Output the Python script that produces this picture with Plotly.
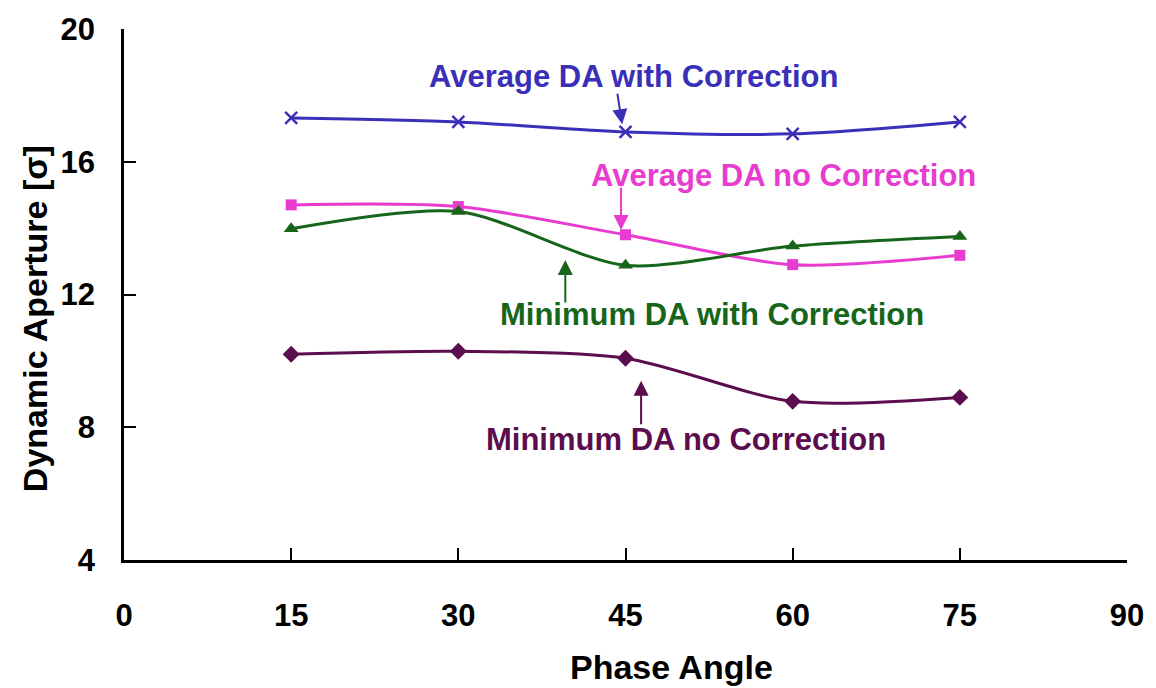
import plotly.graph_objects as go

phase = [15, 30, 45, 60, 75]
avg_with_corr = [17.32, 17.2, 16.9, 16.84, 17.2]
avg_no_corr = [14.7, 14.65, 13.8, 12.9, 13.18]
min_with_corr = [13.98, 14.5, 12.88, 13.46, 13.75]
min_no_corr = [10.2, 10.29, 10.08, 8.78, 8.9]

x_ticks = [0, 15, 30, 45, 60, 75, 90]
y_ticks = [4, 8, 12, 16, 20]

BLUE = "#3A2FB8"
MAGENTA = "#E83CD0"
GREEN = "#17651A"
PURPLE = "#5B0D4E"
FONT = "Liberation Sans, Arial, sans-serif"

fig = go.Figure()

series = [
    (avg_with_corr, BLUE, "x-thin", 12, "Average DA with Correction"),
    (avg_no_corr, MAGENTA, "square", 11, "Average DA no Correction"),
    (min_with_corr, GREEN, "triangle-up", 13, "Minimum DA with Correction"),
    (min_no_corr, PURPLE, "diamond", 13, "Minimum DA no Correction"),
]
for vals, col, sym, size, name in series:
    fig.add_trace(go.Scatter(
        x=phase, y=vals, name=name, mode="lines+markers",
        line=dict(color=col, width=3, shape="spline", smoothing=0.8),
        marker=dict(symbol=sym, size=size, color=col,
                    line=dict(color=col, width=2.5 if sym == "x-thin" else 0)),
    ))

# label texts
labels = [
    ("Average DA with Correction", 45.7, 18.57, BLUE),
    ("Average DA no Correction", 59.2, 15.58, MAGENTA),
    ("Minimum DA with Correction", 52.8, 11.40, GREEN),
    ("Minimum DA no Correction", 50.4, 7.64, PURPLE),
]
for txt, x, y, col in labels:
    fig.add_annotation(x=x, y=y, text="<b>%s</b>" % txt, showarrow=False,
                       font=dict(family=FONT, size=31, color=col),
                       xanchor="center", yanchor="middle")

# arrows (head position in data coords, tail offset in px)
arrows = [
    (44.7, 17.13, -5, -32, BLUE),
    (44.6, 13.94, 0, -44, MAGENTA),
    (39.6, 13.04, 0, 44, GREEN),
    (46.4, 9.40, 0, 45, PURPLE),
]
for x, y, ax, ay, col in arrows:
    fig.add_annotation(x=x, y=y, ax=ax, ay=ay, text="", showarrow=True,
                       arrowhead=2, arrowsize=1.5, arrowwidth=2, arrowcolor=col)

# axis titles
fig.add_annotation(xref="paper", yref="paper", x=0.546, y=-0.201,
                   text="<b>Phase Angle</b>", showarrow=False,
                   font=dict(family=FONT, size=34, color="black"),
                   xanchor="center", yanchor="middle")
fig.add_annotation(xref="paper", yref="paper", x=-0.0885, y=0.454,
                   text="<b>Dynamic Aperture [σ]</b>", showarrow=False, textangle=-90,
                   font=dict(family=FONT, size=34, color="black"),
                   xanchor="center", yanchor="middle")

fig.update_layout(
    width=1156, height=688,
    margin=dict(l=124, r=26, t=23, b=128),
    paper_bgcolor="white", plot_bgcolor="white",
    showlegend=False,
    font=dict(family=FONT, color="black"),
)
fig.update_xaxes(
    range=[0, 90], tickvals=x_ticks, ticktext=["<b>%d</b>" % v for v in x_ticks],
    ticks="inside", ticklen=12, tickwidth=2, tickcolor="black",
    showline=True, linecolor="black", linewidth=2.5, showgrid=False, zeroline=False,
    tickfont=dict(family=FONT, size=31, color="black"), ticklabelstandoff=26,
)
fig.update_yaxes(
    range=[4, 20], tickvals=y_ticks, ticktext=["<b>%d</b>" % v for v in y_ticks],
    ticks="inside", ticklen=12, tickwidth=2, tickcolor="black",
    showline=True, linecolor="black", linewidth=2.5, showgrid=False, zeroline=False,
    tickfont=dict(family=FONT, size=31, color="black"), ticklabelstandoff=20,
)

fig.write_html("out.html")
